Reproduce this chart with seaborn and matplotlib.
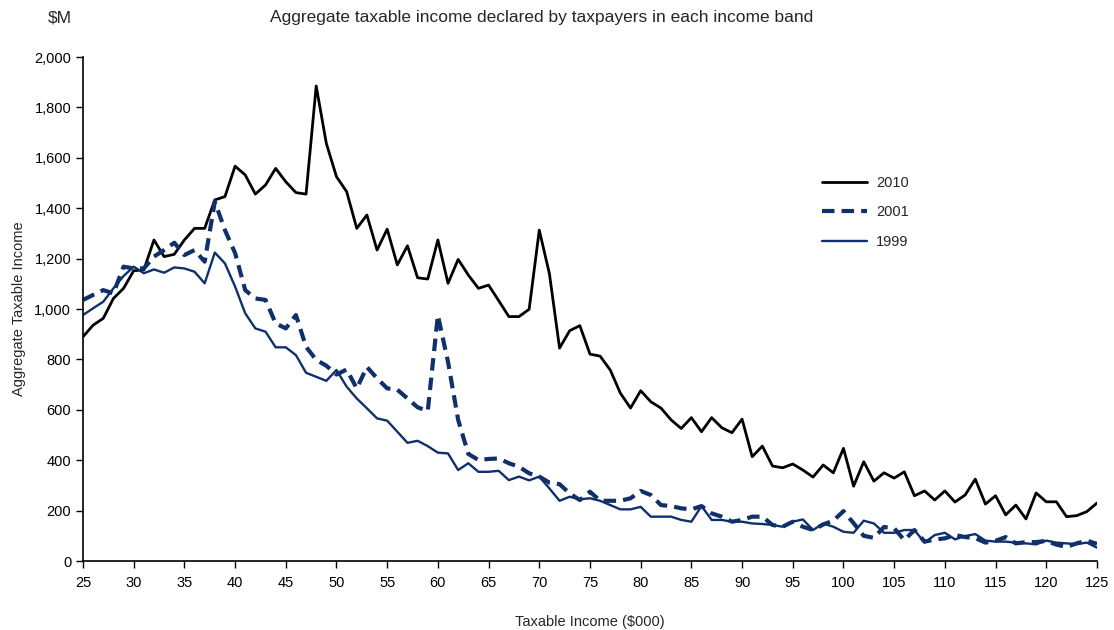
import numpy as np
import pandas as pd
import seaborn as sns
import matplotlib.pyplot as plt
from matplotlib.ticker import FuncFormatter, MultipleLocator

# --- data ($M per $1,000 income band) ---
income_k = list(range(25, 126))

y2010 = [
    890, 936, 963, 1042, 1082, 1152, 1155, 1274, 1208, 1217,   # 25-34
    1274, 1320, 1320, 1433, 1446, 1567, 1532, 1456, 1492, 1558,  # 35-44
    1505, 1462, 1456, 1885, 1657, 1525, 1466, 1320, 1373, 1234,  # 45-54
    1317, 1175, 1251, 1124, 1119, 1274, 1102, 1197, 1135, 1082,  # 55-64
    1095, 1033, 970, 970, 999, 1313, 1140, 845, 914, 934,        # 65-74
    821, 813, 758, 666, 607, 676, 632, 607, 560, 526,            # 75-84
    569, 513, 569, 529, 509, 563, 414, 456, 377, 370,            # 85-94
    385, 361, 333, 381, 350, 447, 297, 394, 317, 350,            # 95-104
    329, 354, 259, 278, 242, 278, 234, 262, 325, 226,            # 105-114
    259, 183, 222, 167, 270, 235, 235, 176, 180, 196,            # 115-124
    230,                                                         # 125
]

y2001 = [
    1036, 1056, 1075, 1062, 1168, 1161, 1161, 1208, 1234, 1263,
    1214, 1234, 1188, 1426, 1313, 1222, 1075, 1042, 1036, 943,
    923, 976, 850, 798, 775, 740, 760, 685, 770, 725,
    685, 680, 645, 610, 595, 975, 790, 560, 425, 401,
    405, 407, 388, 374, 348, 335, 311, 305, 268, 242,
    275, 239, 239, 239, 249, 278, 262, 222, 218, 209,
    205, 218, 189, 176, 156, 163, 176, 176, 143, 136,
    156, 136, 123, 145, 160, 198, 150, 100, 92, 135,
    130, 83, 123, 77, 85, 90, 103, 95, 91, 73,
    80, 95, 70, 75, 75, 80, 65, 56, 70, 81,
    68,
]

y1999 = [
    976, 1003, 1029, 1082, 1131, 1168, 1142, 1157, 1144, 1165,
    1161, 1148, 1102, 1224, 1181, 1089, 983, 923, 910, 848,
    848, 817, 747, 731, 715, 758, 692, 645, 606, 566,
    557, 513, 469, 477, 456, 430, 427, 361, 388, 354,
    354, 358, 321, 335, 320, 335, 288, 239, 255, 245,
    249, 239, 222, 205, 205, 215, 176, 176, 176, 163,
    156, 218, 163, 163, 156, 156, 149, 147, 143, 136,
    156, 165, 123, 149, 136, 116, 112, 160, 149, 112,
    112, 123, 123, 73, 103, 112, 86, 99, 107, 81,
    77, 77, 73, 70, 66, 81, 73, 70, 67, 73,
    53,
]

df = pd.DataFrame({"income": income_k, "2010": y2010, "2001": y2001, "1999": y1999})

sns.set_theme(style="ticks")
plt.rcParams["font.family"] = ["Liberation Sans", "DejaVu Sans"]

navy = "#10306b"

fig = plt.figure(figsize=(11.14, 6.30), dpi=100)
ax = fig.add_axes([0.0745, 0.1095, 0.9102, 0.80])

sns.lineplot(data=df, x="income", y="2010", ax=ax, color="black", linewidth=2.0, label="2010")
sns.lineplot(data=df, x="income", y="2001", ax=ax, color=navy, linewidth=3.0, label="2001")
sns.lineplot(data=df, x="income", y="1999", ax=ax, color=navy, linewidth=1.7, label="1999")
ax.lines[1].set_dashes((3.0, 1.7))

ax.set_xlim(25, 125)
ax.set_ylim(0, 2000)
ax.xaxis.set_major_locator(MultipleLocator(5))
ax.yaxis.set_major_locator(MultipleLocator(200))
ax.yaxis.set_major_formatter(FuncFormatter(lambda v, _: f"{int(v):,}"))
ax.tick_params(axis="both", labelsize=10.5, length=5, width=1, colors="black", direction="out")
ax.tick_params(axis="x", pad=6)

for side in ["top", "right"]:
    ax.spines[side].set_visible(False)
for side in ["left", "bottom"]:
    ax.spines[side].set_color("black")
    ax.spines[side].set_linewidth(1.2)

ax.set_xlabel("Taxable Income ($000)", fontsize=10.5, labelpad=18)
ax.set_ylabel("Aggregate Taxable Income", fontsize=10.5, labelpad=6)

fig.text(0.486, 0.972, "Aggregate taxable income declared by taxpayers in each income band",
         ha="center", va="center", fontsize=12.5)
fig.text(0.054, 0.972, "$M", ha="center", va="center", fontsize=12.5)

leg = ax.legend(loc="upper left", bbox_to_anchor=(0.716, 0.79), frameon=False,
                fontsize=10.5, handlelength=3.1, labelspacing=1.05, handletextpad=0.6)

fig.savefig("out.png", dpi=100)
